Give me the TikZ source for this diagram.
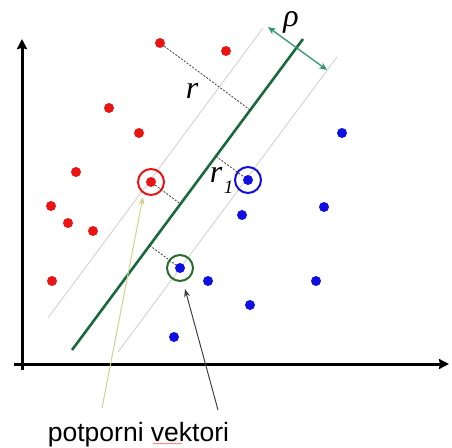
\documentclass[tikz,border=0pt]{standalone}
\usepackage{fontspec}
\setmainfont{Liberation Sans}
\newfontfamily\lserif{Liberation Serif}
\usetikzlibrary{arrows.meta,calc,decorations.pathmorphing}
\definecolor{ptred}{RGB}{235,20,20}
\definecolor{ptblue}{RGB}{15,15,225}
\definecolor{hypgreen}{RGB}{25,105,60}
\definecolor{rhogreen}{RGB}{50,150,115}
\definecolor{margray}{RGB}{210,210,210}
\definecolor{yarrow}{RGB}{205,212,135}
\definecolor{ringgreen}{RGB}{40,110,40}
\begin{document}
\begin{tikzpicture}[x=1pt,y=-1pt,
  dotR/.style={circle,fill=ptred,inner sep=0pt,minimum size=10pt},
  dotB/.style={circle,fill=ptblue,inner sep=0pt,minimum size=10pt},
  ring/.style={circle,draw,line width=2pt,inner sep=0pt,minimum size=26pt},
  axisline/.style={line width=3pt,-{Stealth[length=10pt,width=10pt,inset=1pt]}},
  distline/.style={dash pattern=on 2pt off 1.5pt,line width=0.8pt,black!75},
  margline/.style={margray,line width=0.9pt},
  mlabel/.style={inner sep=0pt,font=\lserif\itshape\fontsize{32}{34}\selectfont},
  sublabel/.style={inner sep=0pt,font=\lserif\itshape\fontsize{19}{21}\selectfont}]
\useasboundingbox (0,0) rectangle (452,447);
% axes
\coordinate (ybot) at (22,370);
\coordinate (ytop) at (22,39);
\coordinate (xbeg) at (14,364);
\coordinate (xend) at (449,364);
\draw[axisline] (ybot) -- (ytop);
\draw[axisline] (xbeg) -- (xend);
% margin lines
\coordinate (ml1) at (48,318);
\coordinate (ml2) at (263,28);
\coordinate (mr1) at (118,352);
\coordinate (mr2) at (337,57);
\draw[margline] (ml1) -- (ml2);
\draw[margline] (mr1) -- (mr2);
% hyperplane
\coordinate (h1) at (72,350);
\coordinate (h2) at (303,39);
\draw[hypgreen,line width=2.6pt] (h1) -- (h2);
% rho arrow
\coordinate (rhoa) at (268,27);
\coordinate (rhob) at (327,70);
\draw[rhogreen,line width=1.3pt,{Stealth[length=8pt,width=7pt]}-{Stealth[length=8pt,width=7pt]}] (rhoa) -- (rhob);
\node[mlabel] (rho) at (291,22) {ρ};
% red points
\node[dotR] (r1) at (160,43) {};
\node[dotR] (r2) at (226,51) {};
\node[dotR] (r3) at (109,108) {};
\node[dotR] (r4) at (139,133) {};
\node[dotR] (r5) at (76,172) {};
\node[dotR] (r6) at (51,206) {};
\node[dotR] (r7) at (68,223) {};
\node[dotR] (r8) at (93,231) {};
\node[dotR] (r9) at (52,281) {};
\node[dotR] (rs) at (151,182) {};
\node[ring,draw=ptred] (rsr) at (151,182) {};
% blue points
\node[dotB] (b1) at (342,133) {};
\node[dotB] (bs) at (248,180) {};
\node[ring,draw=ptblue] (bsr) at (248,180) {};
\node[dotB] (b2) at (242,215) {};
\node[dotB] (b3) at (324,207) {};
\node[dotB] (gs) at (180,268) {};
\node[ring,draw=ringgreen] (gsr) at (180,268) {};
\node[dotB] (b4) at (208,281) {};
\node[dotB] (b5) at (316,281) {};
\node[dotB] (b6) at (250,305) {};
\node[dotB] (b7) at (174,337) {};
% distances
\coordinate (f1) at ($(h1)!(r1)!(h2)$);
\coordinate (f2) at ($(h1)!(rs)!(h2)$);
\coordinate (f3) at ($(h1)!(gs)!(h2)$);
\coordinate (f4) at ($(h1)!(bs)!(h2)$);
\draw[distline] (r1) -- (f1);
\draw[distline] (rs) -- (f2);
\draw[distline] (f3) -- (gs);
\draw[distline] (f4) -- (bs);
\node[mlabel,anchor=base] (rlab) at (192,98) {r};
\node[mlabel,anchor=base] (r1lab) at (216,182) {r};
\node[sublabel,anchor=base] (r1sub) at (228.5,193) {1};
% pointer arrows
\coordinate (ya) at (102,408);
\coordinate (ga) at (218,410);
\draw[yarrow,line width=1pt,-{Stealth[length=8pt,width=6pt]}] (ya) -- ($(rs)+(-8,15)$);
\draw[black!75,line width=1pt,-{Stealth[length=8pt,width=6pt]}] (ga) -- ($(gs)+(5,21)$);
% label
\node[inner sep=0pt,anchor=base,font=\fontsize{26.5}{28}\selectfont] (sv) at (138.5,441) {potporni vektori};
\coordinate (u1) at (153,443.5);
\coordinate (u2) at (182,443.5);
\draw[red!60,line width=0.6pt,decorate,decoration={snake,amplitude=0.6pt,segment length=3pt}] (u1) -- (u2);
\end{tikzpicture}
\end{document}
